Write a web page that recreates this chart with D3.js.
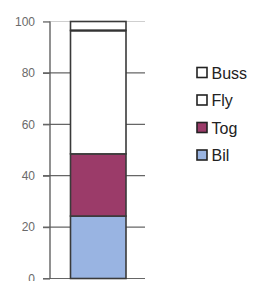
<!DOCTYPE html>
<html><head><meta charset="utf-8">
<script src="https://cdn.jsdelivr.net/npm/d3@7"></script>
<style>body{margin:0;background:#fff}svg{display:block}</style>
</head><body>
<script>
const categories = ["Bil", "Tog", "Fly", "Buss"];
const values = [24.3, 24.2, 48, 3.5];
const colors = ["#99b4e2", "#9b3b69", "#ffffff", "#ffffff"];
const ticks = [0, 20, 40, 60, 80, 100];
const legendOrder = ["Buss", "Fly", "Tog", "Bil"];

const W = 266, H = 281;
const svg = d3.select("body").append("svg").attr("width", W).attr("height", H);

const y = d3.scaleLinear().domain([0, 100]).range([278.5, 21.5]);

// gridlines
svg.append("g").selectAll("line").data(ticks).join("line")
  .attr("x1", 43).attr("x2", 145)
  .attr("y1", d => y(d)).attr("y2", d => y(d))
  .attr("stroke", d => d === 100 ? "#cfcfcf" : "#666").attr("stroke-width", 1.2);

// y axis
const axis = d3.axisLeft(y).tickValues(ticks).tickSize(7).tickPadding(8);
const ga = svg.append("g").attr("transform", "translate(50,0)").call(axis);
ga.select(".domain").attr("stroke", "#555").attr("stroke-width", 1.3).attr("d", `M0,${y(100)}V${y(0)}`);
ga.selectAll(".tick line").attr("stroke", "#666").attr("stroke-width", 1.2);
ga.selectAll(".tick text").attr("fill", "#6a6a6a").attr("font-family", "Liberation Sans, Arial, sans-serif").attr("font-size", 12);

// stacked segments
let cum = 0;
const segs = values.map((v, i) => { const s = {name: categories[i], y0: cum, y1: cum + v, color: colors[i]}; cum += v; return s; });
const bx = 70.5, bw = 55.5;
svg.append("g").selectAll("rect").data(segs).join("rect")
  .attr("x", bx).attr("width", bw)
  .attr("y", d => y(d.y1)).attr("height", d => y(d.y0) - y(d.y1))
  .attr("fill", d => d.color).attr("stroke", "#3a3a3a").attr("stroke-width", 1.6);
// thick line between Fly and Buss
svg.append("line").attr("x1", bx).attr("x2", bx + bw)
  .attr("y1", y(segs[2].y1)).attr("y2", y(segs[2].y1))
  .attr("stroke", "#333").attr("stroke-width", 2);

// legend
const colorOf = Object.fromEntries(categories.map((c, i) => [c, colors[i]]));
const lg = svg.append("g").selectAll("g").data(legendOrder).join("g")
  .attr("transform", (d, i) => `translate(197,${72.5 + i * 27.5})`);
lg.append("rect").attr("x", 0).attr("y", -5).attr("width", 10).attr("height", 10)
  .attr("fill", d => colorOf[d]).attr("stroke", "#222").attr("stroke-width", 1.6);
lg.append("text").attr("x", 14.5).attr("y", 6).text(d => d)
  .attr("font-family", "Liberation Sans, Arial, sans-serif").attr("font-size", 16).attr("fill", "#222");
</script>
</body></html>
